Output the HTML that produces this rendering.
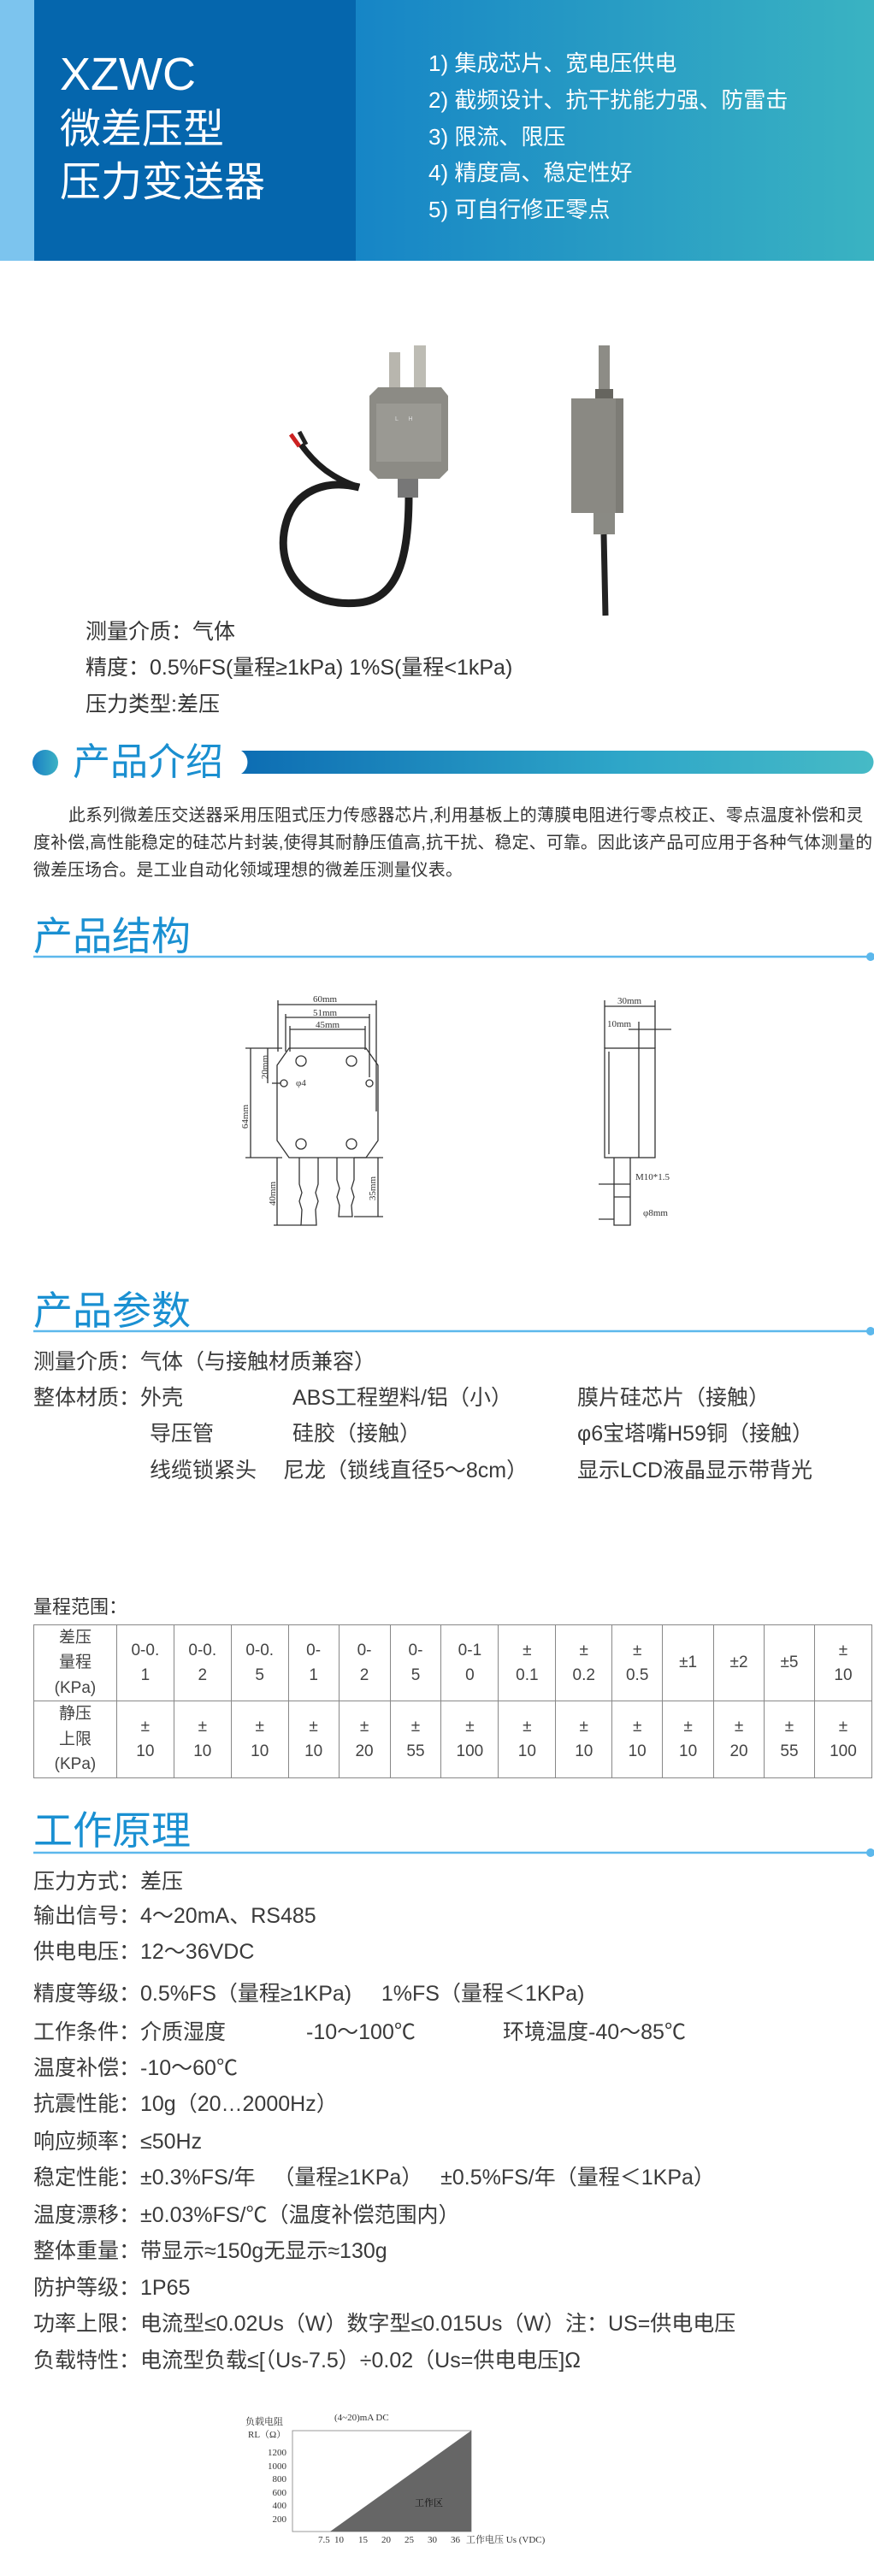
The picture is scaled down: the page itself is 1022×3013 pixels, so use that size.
<!DOCTYPE html>
<html><head><meta charset="utf-8">
<style>
*{margin:0;padding:0;box-sizing:border-box}
body{width:1022px;height:3013px;position:relative;background:#fff;overflow:hidden;font-family:"Liberation Sans","Noto Sans CJK SC",sans-serif;color:#333}
.t{position:absolute;white-space:nowrap;line-height:1}
.h{color:#1a90d2;font-size:46px}
.b{font-size:25px;color:#3a3a3a}
table{position:absolute;border-collapse:collapse;left:39px;top:1900px;width:981px;font-size:19px;color:#444}
td{border:1.5px solid #888;text-align:center;line-height:1.55;padding:0}
</style></head><body>
<svg width="1022" height="3013" style="position:absolute;left:0;top:0">
<defs>
<linearGradient id="g1" x1="0" x2="1"><stop offset="0" stop-color="#1685c6"/><stop offset="1" stop-color="#3ab3c2"/></linearGradient>
<linearGradient id="g2" x1="0" x2="1"><stop offset="0" stop-color="#0d6db3"/><stop offset="0.6" stop-color="#2ea6c8"/><stop offset="1" stop-color="#46bac6"/></linearGradient>
<linearGradient id="g3" x1="0" x2="1"><stop offset="0" stop-color="#1a7fc4"/><stop offset="1" stop-color="#3cb2c4"/></linearGradient>
</defs>
<rect x="0" y="0" width="40" height="305" fill="#7cc4ee"/>
<rect x="40" y="0" width="376" height="305" fill="#0566ad"/>
<rect x="416" y="0" width="606" height="305" fill="url(#g1)"/>
<!-- photo left -->
<path d="M478 580 C478 640 470 700 420 705 C350 712 320 660 335 610 C345 575 380 560 420 570" fill="none" stroke="#1d1d1d" stroke-width="9"/>
<path d="M420 570 C390 560 370 545 352 520" fill="none" stroke="#1d1d1d" stroke-width="7"/>
<path d="M350 522 L340 508" stroke="#c22" stroke-width="5"/>
<path d="M358 520 L350 505" stroke="#222" stroke-width="5"/>
<rect x="455" y="412" width="13" height="45" fill="#b8b6ae"/>
<rect x="484" y="404" width="14" height="53" fill="#bdbcb4"/>
<path d="M442 453 L516 453 L524 463 L524 550 L514 560 L442 560 L432 550 L432 463 Z" fill="#8c8b85"/>
<rect x="440" y="472" width="76" height="68" fill="#9a9993"/>
<rect x="465" y="560" width="24" height="22" fill="#777"/>
<!-- photo right -->
<rect x="700" y="404" width="13" height="66" fill="#8d8c86"/>
<rect x="696" y="455" width="21" height="18" fill="#66655f"/>
<rect x="668" y="466" width="61" height="134" fill="#7d7c76"/>
<rect x="668" y="466" width="52" height="134" fill="#8a8983"/>
<rect x="694" y="600" width="25" height="25" fill="#8a8a84"/>
<path d="M706 625 L708 720" stroke="#222" stroke-width="7"/>
<!-- 产品介绍 -->
<circle cx="53" cy="892" r="15" fill="url(#g3)"/>
<path d="M282 878 L1008 878 A13.5 13.5 0 0 1 1008 905 L282 905 A16 16 0 0 0 282 878 Z" fill="url(#g2)"/>
<!-- section lines -->
<g stroke="#5cb8ec" stroke-width="2.5"><line x1="39" y1="1119" x2="1016" y2="1119"/><line x1="39" y1="1557" x2="1016" y2="1557"/><line x1="39" y1="2167" x2="1016" y2="2167"/></g>
<g fill="#5cb8ec"><circle cx="1018" cy="1119" r="5"/><circle cx="1018" cy="1557" r="5"/><circle cx="1018" cy="2167" r="5"/></g>
<!-- drawing left -->
<g stroke="#333" stroke-width="1.3" fill="none">
<path d="M338 1226 L428 1226 L442 1246 L442 1334 L428 1354 L338 1354 L324 1334 L324 1246 Z"/>
<circle cx="352" cy="1241" r="6"/><circle cx="411" cy="1241" r="6"/><circle cx="352" cy="1338" r="6"/><circle cx="411" cy="1338" r="6"/>
<circle cx="332" cy="1267" r="4"/><circle cx="432" cy="1267" r="4"/>
<path d="M350 1354 L350 1385 L353 1395 L350 1405 L353 1415 L352 1433 L370 1433 L369 1415 L372 1405 L369 1395 L372 1385 L372 1354"/>
<path d="M394 1354 L394 1380 L397 1390 L394 1400 L397 1410 L396 1423 L412 1423 L411 1410 L414 1400 L411 1390 L414 1380 L414 1354"/>
<line x1="325" y1="1170" x2="325" y2="1230"/><line x1="440" y1="1170" x2="440" y2="1300"/>
<line x1="334" y1="1186" x2="334" y2="1230"/><line x1="432" y1="1186" x2="432" y2="1260"/>
<line x1="339" y1="1200" x2="339" y2="1230"/><line x1="427" y1="1200" x2="427" y2="1228"/>
<line x1="325" y1="1175" x2="440" y2="1175"/><line x1="334" y1="1190" x2="432" y2="1190"/><line x1="339" y1="1204" x2="427" y2="1204"/>
<line x1="287" y1="1226" x2="330" y2="1226"/><line x1="287" y1="1354" x2="330" y2="1354"/>
<line x1="293" y1="1226" x2="293" y2="1354"/><line x1="313" y1="1226" x2="313" y2="1267"/>
<line x1="324" y1="1354" x2="324" y2="1433"/><line x1="320" y1="1433" x2="352" y2="1433"/>
<line x1="442" y1="1354" x2="442" y2="1423"/><line x1="414" y1="1423" x2="448" y2="1423"/><line x1="414" y1="1354" x2="448" y2="1354"/>
<line x1="318" y1="1267" x2="328" y2="1267"/>
<!-- right -->
<rect x="707" y="1226" width="59" height="128"/><line x1="747" y1="1226" x2="747" y2="1354"/><line x1="712" y1="1230" x2="712" y2="1350"/>
<path d="M718 1354 L718 1433 L737 1433 L737 1354"/><line x1="718" y1="1385" x2="737" y2="1385"/><line x1="718" y1="1400" x2="737" y2="1400"/>
<line x1="707" y1="1170" x2="707" y2="1226"/><line x1="766" y1="1170" x2="766" y2="1226"/><line x1="707" y1="1177" x2="766" y2="1177"/>
<line x1="747" y1="1195" x2="747" y2="1226"/><line x1="735" y1="1204" x2="785" y2="1204"/>
<line x1="700" y1="1385" x2="718" y2="1385"/><line x1="700" y1="1426" x2="718" y2="1426"/>
</g>
<!-- chart -->
<rect x="342" y="2843" width="209" height="118" fill="#fff" stroke="#999"/>
<path d="M386 2961 L551 2843 L551 2961 Z" fill="#666"/>
</svg>

<div class="t" style="left:70px;top:60px;font-size:54px;color:#fff">XZWC</div>
<div class="t" style="left:70px;top:128px;font-size:48px;color:#fff">微差压型</div>
<div class="t" style="left:70px;top:190px;font-size:48px;color:#fff">压力变送器</div>
<div style="position:absolute;left:501px;top:53px;color:#fff;font-size:26px;line-height:42.8px">1) 集成芯片、宽电压供电<br>2) 截频设计、抗干扰能力强、防雷击<br>3) 限流、限压<br>4) 精度高、稳定性好<br>5) 可自行修正零点</div>
<div class="t" style="left:462px;top:487px;font-size:7px;color:#ddd">L&nbsp;&nbsp;&nbsp;&nbsp;&nbsp;&nbsp;H</div>

<div class="t" style="left:100px;top:727px;font-size:25px">测量介质：气体</div>
<div class="t" style="left:100px;top:769px;font-size:25px">精度：0.5%FS(量程≥1kPa) 1%S(量程&lt;1kPa)</div>
<div class="t" style="left:100px;top:812px;font-size:25px">压力类型:差压</div>

<div class="t" style="left:85px;top:870px;font-size:44px;color:#1a8fd0">产品介绍</div>
<div style="position:absolute;left:39px;top:938px;width:990px;font-size:19.8px;line-height:32px;color:#333;text-indent:41px;letter-spacing:0.3px">此系列微差压交送器采用压阻式压力传感器芯片,利用基板上的薄膜电阻进行零点校正、零点温度补偿和灵度补偿,高性能稳定的硅芯片封装,使得其耐静压值高,抗干扰、稳定、可靠。因此该产品可应用于各种气体测量的微差压场合。是工业自动化领域理想的微差压测量仪表。</div>

<div class="t h" style="left:39px;top:1072px">产品结构</div>
<div class="t" style="left:366px;top:1163px;font:11px 'Liberation Serif',serif">60mm</div>
<div class="t" style="left:366px;top:1179px;font:11px 'Liberation Serif',serif">51mm</div>
<div class="t" style="left:369px;top:1193px;font:11px 'Liberation Serif',serif">45mm</div>
<div class="t" style="left:346px;top:1261px;font:11px 'Liberation Serif',serif">φ4</div>
<div class="t" style="left:273px;top:1300px;font:11px 'Liberation Serif',serif;transform:rotate(-90deg)">64mm</div>
<div class="t" style="left:296px;top:1242px;font:11px 'Liberation Serif',serif;transform:rotate(-90deg)">20mm</div>
<div class="t" style="left:305px;top:1390px;font:11px 'Liberation Serif',serif;transform:rotate(-90deg)">40mm</div>
<div class="t" style="left:422px;top:1384px;font:11px 'Liberation Serif',serif;transform:rotate(-90deg)">35mm</div>
<div class="t" style="left:722px;top:1165px;font:11px 'Liberation Serif',serif">30mm</div>
<div class="t" style="left:710px;top:1192px;font:11px 'Liberation Serif',serif">10mm</div>
<div class="t" style="left:743px;top:1371px;font:11px 'Liberation Serif',serif">M10*1.5</div>
<div class="t" style="left:752px;top:1413px;font:11px 'Liberation Serif',serif">φ8mm</div>

<div class="t h" style="left:39px;top:1510px">产品参数</div>
<div class="t b" style="left:39px;top:1581px">测量介质：气体（与接触材质兼容）</div>
<div class="t b" style="left:39px;top:1623px">整体材质：外壳</div>
<div class="t b" style="left:342px;top:1623px">ABS工程塑料/铝（小）</div>
<div class="t b" style="left:675px;top:1623px">膜片硅芯片（接触）</div>
<div class="t b" style="left:175px;top:1665px">导压管</div>
<div class="t b" style="left:342px;top:1665px">硅胶（接触）</div>
<div class="t b" style="left:675px;top:1665px">φ6宝塔嘴H59铜（接触）</div>
<div class="t b" style="left:175px;top:1708px">线缆锁紧头</div>
<div class="t b" style="left:331px;top:1708px">尼龙（锁线直径5～8cm）</div>
<div class="t b" style="left:675px;top:1708px">显示LCD液晶显示带背光</div>

<div class="t" style="left:39px;top:1869px;font-size:22px">量程范围：</div>
<table>
<colgroup><col style="width:97px"><col style="width:67px"><col style="width:67px"><col style="width:67px"><col style="width:59px"><col style="width:60px"><col style="width:60px"><col style="width:67px"><col style="width:67px"><col style="width:66px"><col style="width:59px"><col style="width:60px"><col style="width:59px"><col style="width:59px"><col style="width:67px"></colgroup>
<tr style="height:84px"><td>差压<br>量程<br>(KPa)</td><td>0-0.<br>1</td><td>0-0.<br>2</td><td>0-0.<br>5</td><td>0-<br>1</td><td>0-<br>2</td><td>0-<br>5</td><td>0-1<br>0</td><td>±<br>0.1</td><td>±<br>0.2</td><td>±<br>0.5</td><td>±1</td><td>±2</td><td>±5</td><td>±<br>10</td></tr>
<tr style="height:83px"><td>静压<br>上限<br>(KPa)</td><td>±<br>10</td><td>±<br>10</td><td>±<br>10</td><td>±<br>10</td><td>±<br>20</td><td>±<br>55</td><td>±<br>100</td><td>±<br>10</td><td>±<br>10</td><td>±<br>10</td><td>±<br>10</td><td>±<br>20</td><td>±<br>55</td><td>±<br>100</td></tr>
</table>

<div class="t h" style="left:39px;top:2118px">工作原理</div>
<div class="t b" style="left:39px;top:2189px">压力方式：差压</div>
<div class="t b" style="left:39px;top:2229px">输出信号：4～20mA、RS485</div>
<div class="t b" style="left:39px;top:2271px">供电电压：12～36VDC</div>
<div class="t b" style="left:39px;top:2320px">精度等级：0.5%FS（量程≥1KPa)&nbsp;&nbsp;&nbsp;&nbsp;&nbsp;1%FS（量程＜1KPa)</div>
<div class="t b" style="left:39px;top:2365px">工作条件：介质湿度</div>
<div class="t b" style="left:358px;top:2365px">-10～100℃</div>
<div class="t b" style="left:588px;top:2365px">环境温度-40～85℃</div>
<div class="t b" style="left:39px;top:2407px">温度补偿：-10～60℃</div>
<div class="t b" style="left:39px;top:2449px">抗震性能：10g（20…2000Hz）</div>
<div class="t b" style="left:39px;top:2493px">响应频率：≤50Hz</div>
<div class="t b" style="left:39px;top:2535px">稳定性能：±0.3%FS/年&nbsp;&nbsp;&nbsp;（量程≥1KPa）&nbsp;&nbsp;&nbsp;±0.5%FS/年（量程＜1KPa）</div>
<div class="t b" style="left:39px;top:2579px">温度漂移：±0.03%FS/℃（温度补偿范围内）</div>
<div class="t b" style="left:39px;top:2621px">整体重量：带显示≈150g无显示≈130g</div>
<div class="t b" style="left:39px;top:2664px">防护等级：1P65</div>
<div class="t b" style="left:39px;top:2706px">功率上限：电流型≤0.02Us（W）数字型≤0.015Us（W）注：US=供电电压</div>
<div class="t b" style="left:39px;top:2749px">负载特性：电流型负载≤[（Us-7.5）÷0.02（Us=供电电压]Ω</div>

<div style="position:absolute;font-family:'Liberation Serif','Noto Serif CJK SC',serif;font-size:11px;color:#333;line-height:1">
<div class="t" style="left:287px;top:2828px">负载电阻</div>
<div class="t" style="left:290px;top:2843px">RL（Ω）</div>
<div class="t" style="left:391px;top:2823px">(4~20)mA DC</div>
<div class="t" style="left:310px;top:2864px;width:25px;text-align:right">1200</div>
<div class="t" style="left:310px;top:2880px;width:25px;text-align:right">1000</div>
<div class="t" style="left:310px;top:2895px;width:25px;text-align:right">800</div>
<div class="t" style="left:310px;top:2911px;width:25px;text-align:right">600</div>
<div class="t" style="left:310px;top:2926px;width:25px;text-align:right">400</div>
<div class="t" style="left:310px;top:2942px;width:25px;text-align:right">200</div>
<div class="t" style="left:372px;top:2966px">7.5</div>
<div class="t" style="left:391px;top:2966px">10</div>
<div class="t" style="left:419px;top:2966px">15</div>
<div class="t" style="left:446px;top:2966px">20</div>
<div class="t" style="left:473px;top:2966px">25</div>
<div class="t" style="left:500px;top:2966px">30</div>
<div class="t" style="left:527px;top:2966px">36</div>
<div class="t" style="left:545px;top:2966px">工作电压 Us (VDC)</div>
<div class="t" style="left:485px;top:2923px;color:#111">工作区</div>
</div>
</body></html>
